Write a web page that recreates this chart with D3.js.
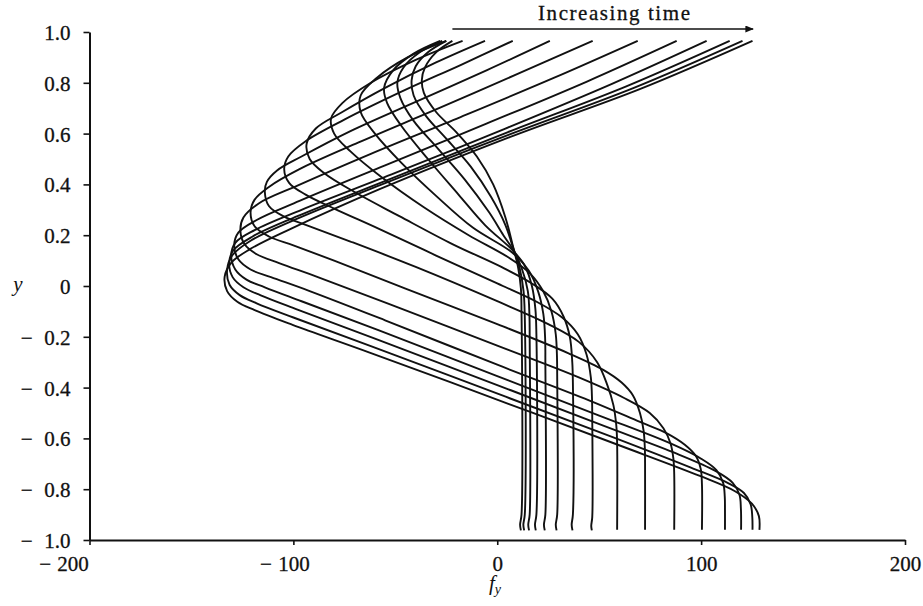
<!DOCTYPE html>
<html>
<head>
<meta charset="utf-8">
<script src="https://cdn.jsdelivr.net/npm/d3@7"></script>
<style>
  html, body { margin: 0; padding: 0; background: #fff; }
  svg { display: block; }
  text { font-family: "Liberation Serif", "DejaVu Serif", serif; fill: #111; }
</style>
</head>
<body>
<svg id="chart" width="923" height="606"></svg>
<script>
// f_y profiles across the channel, y in [-1, 1], one array of [f_y, y] per time level
const curve01 = [[-22,0.965],[-30,0.92],[-35.5,0.86],[-37,0.81],[-36,0.76],[-30,0.685],[-20,0.605],[-10,0.51],[-2,0.4],[4,0.27],[7.6,0.16],[10.3,0.07],[11.6,-0.01],[11.9,-0.1],[11.9,-0.9],[11.2,-0.94],[11.6,-0.962]];
const curve02 = [[-25,0.965],[-34,0.92],[-40,0.865],[-42,0.81],[-41,0.75],[-35,0.67],[-25,0.58],[-13,0.47],[-3,0.35],[4,0.24],[7.6,0.155],[11,0.07],[12.9,-0.02],[13.5,-0.12],[13.5,-0.9],[12.8,-0.94],[13.2,-0.962]];
const curve03 = [[-27,0.965],[-38,0.92],[-46,0.86],[-49,0.8],[-47.5,0.74],[-41,0.65],[-29,0.54],[-16,0.42],[-4,0.29],[3,0.2],[7.6,0.145],[12,0.07],[15,-0.02],[15.8,-0.12],[15.9,-0.2],[15.9,-0.9],[15.2,-0.94],[15.6,-0.962]];
const curve04 = [[-28,0.965],[-41,0.915],[-51,0.85],[-55.5,0.78],[-54,0.72],[-47,0.63],[-34,0.5],[-19,0.36],[-6,0.24],[7.6,0.14],[13.5,0.08],[17,0],[18.7,-0.09],[19.2,-0.19],[19.2,-0.9],[18.5,-0.94],[18.9,-0.962]];
const curve05 = [[-25,0.965],[-44,0.9],[-59,0.82],[-67,0.75],[-67,0.685],[-60,0.6],[-47,0.485],[-30,0.355],[-12,0.23],[7.6,0.13],[15.5,0.06],[20,-0.02],[22.6,-0.11],[23.5,-0.21],[23.6,-0.3],[23.6,-0.9],[22.9,-0.94],[23.3,-0.962]];
const curve06 = [[-17,0.965],[-40,0.89],[-62,0.8],[-76,0.72],[-81.5,0.66],[-80,0.6],[-72,0.53],[-57,0.43],[-36,0.31],[-14,0.2],[5,0.115],[16,0.05],[22.5,-0.02],[26.6,-0.1],[28.7,-0.19],[29.3,-0.28],[29.4,-0.35],[29.4,-0.9],[28.7,-0.94],[29.1,-0.962]];
const curve07 = [[-6,0.965],[-30,0.88],[-55,0.78],[-76,0.685],[-89,0.62],[-93.5,0.56],[-92,0.5],[-85,0.445],[-70,0.37],[-48,0.275],[-22,0.165],[2,0.075],[17,0.01],[27,-0.05],[32.5,-0.12],[35.6,-0.2],[36.8,-0.3],[37.1,-0.38],[37.1,-0.9],[36.5,-0.94],[36.9,-0.962]];
const curve08 = [[7.6,0.965],[-18,0.87],[-47,0.765],[-75,0.655],[-94,0.57],[-102.5,0.51],[-104.5,0.46],[-102,0.405],[-94,0.36],[-80,0.305],[-58,0.225],[-30,0.12],[0,0.01],[20,-0.065],[32,-0.125],[39.5,-0.19],[43.8,-0.27],[45.9,-0.36],[46.5,-0.45],[46.6,-0.52],[46.6,-0.91],[46.1,-0.945],[46.4,-0.962]];
const curve09 = [[25.8,0.965],[-5,0.85],[-40,0.725],[-72,0.61],[-96,0.51],[-108,0.455],[-113,0.41],[-114,0.37],[-112,0.315],[-105,0.275],[-92,0.235],[-72,0.175],[-40,0.075],[0,-0.06],[25,-0.15],[40,-0.22],[49,-0.3],[54,-0.39],[57,-0.47],[58.4,-0.55],[58.8,-0.62],[58.8,-0.96]];
const curve10 = [[46.8,0.965],[10,0.835],[-30,0.695],[-68,0.565],[-97,0.46],[-112,0.39],[-119,0.34],[-121,0.29],[-119,0.235],[-112,0.195],[-100,0.16],[-80,0.1],[-45,-0.01],[0,-0.15],[35,-0.265],[52,-0.33],[61,-0.38],[66.5,-0.43],[70,-0.5],[71.8,-0.57],[72.4,-0.64],[72.5,-0.7],[72.5,-0.96]];
const curve11 = [[68.9,0.965],[28,0.82],[-18,0.665],[-62,0.52],[-98,0.395],[-117,0.325],[-124.5,0.27],[-126,0.22],[-124,0.165],[-118,0.125],[-107,0.09],[-88,0.035],[-50,-0.08],[0,-0.235],[40,-0.36],[62,-0.44],[74.8,-0.5],[81.5,-0.56],[85,-0.62],[86.4,-0.68],[86.8,-0.74],[86.8,-0.96]];
const curve12 = [[88,0.965],[44,0.805],[-5,0.64],[-55,0.475],[-97,0.335],[-118,0.26],[-127,0.21],[-129,0.16],[-127,0.105],[-121,0.065],[-111,0.035],[-92,-0.02],[-55,-0.135],[0,-0.31],[45,-0.45],[70,-0.535],[83.2,-0.58],[92,-0.625],[97.5,-0.67],[99.8,-0.72],[100.4,-0.78],[100.4,-0.96]];
const curve13 = [[102.7,0.965],[56,0.795],[4,0.62],[-50,0.445],[-96,0.3],[-119,0.22],[-128.5,0.17],[-130.5,0.12],[-128.5,0.065],[-123,0.025],[-114,-0.005],[-96,-0.06],[-58,-0.175],[0,-0.355],[50,-0.51],[85,-0.62],[100,-0.68],[107.5,-0.725],[110.8,-0.775],[111.6,-0.83],[111.7,-0.88],[111.7,-0.96]];
const curve14 = [[114,0.965],[63,0.785],[5,0.605],[-53,0.42],[-98,0.275],[-120,0.195],[-129.5,0.14],[-131.5,0.09],[-129.8,0.035],[-124.5,-0.005],[-116,-0.037],[-98,-0.093],[-60,-0.207],[0,-0.39],[52,-0.55],[88,-0.66],[107,-0.728],[115.5,-0.775],[118.8,-0.822],[119.5,-0.875],[119.6,-0.96]];
const curve15 = [[120.3,0.965],[67,0.78],[5.5,0.595],[-55,0.405],[-99.5,0.26],[-121,0.178],[-130,0.12],[-132.5,0.065],[-131.3,0.005],[-126.3,-0.036],[-118,-0.068],[-100,-0.124],[-62,-0.237],[0.5,-0.425],[55,-0.59],[95,-0.715],[113,-0.775],[121,-0.815],[124.3,-0.86],[125.1,-0.91],[125.2,-0.96]];
const curve16 = [[125.2,0.965],[69.9,0.775],[6.1,0.586],[-57.7,0.381],[-101.8,0.223],[-121.5,0.144],[-130.3,0.093],[-133.7,0.037],[-132.5,-0.02],[-127.5,-0.062],[-119,-0.095],[-100.4,-0.153],[-62.6,-0.262],[1.2,-0.451],[60.1,-0.628],[99.4,-0.748],[116.6,-0.808],[124.9,-0.857],[128.3,-0.905],[128.6,-0.96]];

const profiles = [curve01, curve02, curve03, curve04, curve05, curve06, curve07, curve08,
                  curve09, curve10, curve11, curve12, curve13, curve14, curve15, curve16];

// Axis ticks
const xTicks = [-200, -100, 0, 100, 200];
const yTicks = [1.0, 0.8, 0.6, 0.4, 0.2, 0, -0.2, -0.4, -0.6, -0.8, -1.0];
const xDomain = [-200, 200];
const yDomain = [-1, 1];
const arrowSpan = [-22, 125]; // f_y extent of the "Increasing time" arrow

const svg = d3.select("#chart");
const x = d3.scaleLinear().domain(xDomain).range([89.5, 905]);
const y = d3.scaleLinear().domain(yDomain).range([540, 32]);

// Profiles
const line = d3.line()
  .x(d => x(d[0]))
  .y(d => y(d[1]))
  .curve(d3.curveCatmullRom.alpha(0.5));

svg.append("g")
  .selectAll("path")
  .data(profiles)
  .join("path")
  .attr("d", line)
  .attr("fill", "none")
  .attr("stroke", "#111")
  .attr("stroke-width", 1.9)
  .attr("stroke-linejoin", "round");

// Axes
const xAxis = d3.axisBottom(x)
  .tickValues(xTicks)
  .tickSize(5)
  .tickSizeOuter(0)
  .tickFormat(d => String(Math.abs(d)));
const gx = svg.append("g").attr("transform", "translate(0,540)").call(xAxis);

const yAxis = d3.axisLeft(y)
  .tickValues(yTicks)
  .tickSize(6)
  .tickSizeOuter(0)
  .tickFormat(d => d === 0 ? "0" : d3.format(".1f")(Math.abs(d)));
const gy = svg.append("g").attr("transform", "translate(89.5,0)").call(yAxis);

[gx, gy].forEach(g => {
  g.select(".domain").attr("stroke", "#111").attr("stroke-width", 2);
  g.selectAll(".tick line").attr("stroke", "#111").attr("stroke-width", 1.6);
  g.selectAll(".tick text")
    .attr("font-family", "'Liberation Serif', serif")
    .attr("font-size", 21)
    .attr("fill", "#111")
    .attr("stroke", "#111")
    .attr("stroke-width", 0.3);
});

// x labels: digits centred under the tick, a free-standing minus sign to their left
gx.selectAll(".tick text")
  .attr("y", 31).attr("dy", 0)
  .attr("dx", d => d === xDomain[0] ? -17 : 0);
gx.selectAll(".tick").filter(d => d < 0).append("text")
  .attr("x", d => (d === xDomain[0] ? -17 : 0) - 22)
  .attr("y", 31)
  .attr("text-anchor", "end")
  .attr("font-family", "'Liberation Serif', serif")
  .attr("font-size", 21)
  .attr("fill", "#111").attr("stroke", "#111").attr("stroke-width", 0.3)
  .text("\u2212");

// y labels: right aligned, minus sign set apart from the digits
gy.selectAll(".tick text").attr("x", -19).attr("dy", "0.36em");
gy.selectAll(".tick").filter(d => d < 0).append("text")
  .attr("x", -57)
  .attr("dy", "0.36em")
  .attr("text-anchor", "end")
  .attr("font-family", "'Liberation Serif', serif")
  .attr("font-size", 21)
  .attr("fill", "#111").attr("stroke", "#111").attr("stroke-width", 0.3)
  .text("\u2212");

// Axis titles
svg.append("text")
  .attr("x", 18).attr("y", 291)
  .attr("font-size", 21).attr("font-style", "italic")
  .attr("text-anchor", "middle")
  .text("y");

const fLabel = svg.append("text")
  .attr("x", 495).attr("y", 590)
  .attr("font-size", 21).attr("font-style", "italic")
  .attr("text-anchor", "middle");
fLabel.append("tspan").text("f");
fLabel.append("tspan").attr("font-size", 14).attr("dy", 4).text("y");

// Time arrow
const defs = svg.append("defs");
defs.append("marker")
  .attr("id", "head")
  .attr("viewBox", "0 0 12 10")
  .attr("refX", 11).attr("refY", 5)
  .attr("markerWidth", 12).attr("markerHeight", 7)
  .attr("markerUnits", "userSpaceOnUse")
  .attr("orient", "auto")
  .append("path").attr("d", "M0,0 L12,5 L0,10 Z").attr("fill", "#111");

svg.append("line")
  .attr("x1", x(arrowSpan[0])).attr("x2", x(arrowSpan[1]) + 1)
  .attr("y1", 29).attr("y2", 29)
  .attr("stroke", "#111").attr("stroke-width", 1.7)
  .attr("marker-end", "url(#head)");

svg.append("text")
  .attr("x", 538).attr("y", 20)
  .attr("font-size", 21)
  .attr("stroke", "#111").attr("stroke-width", 0.3)
  .attr("textLength", 152)
  .attr("lengthAdjust", "spacing")
  .text("Increasing time");
</script>
</body>
</html>
